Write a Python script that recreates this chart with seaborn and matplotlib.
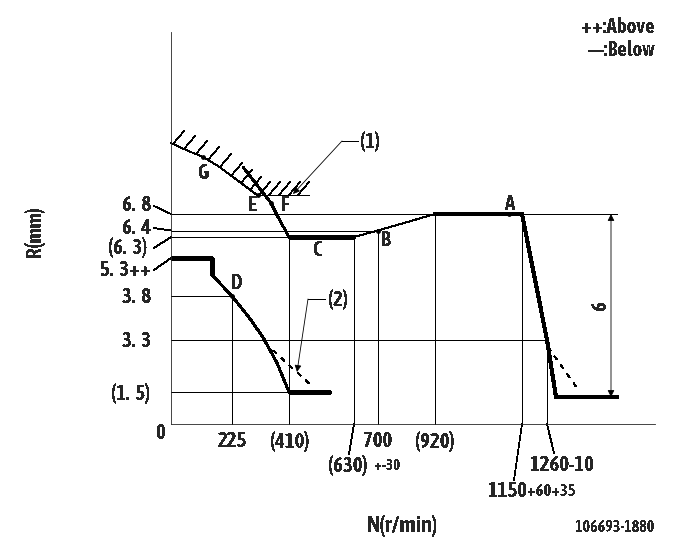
import seaborn as sns
import matplotlib.pyplot as plt

# schematic scale of the drawing (the axis is not linear in r/min)
n_ticks = ["225", "(410)", "700", "(920)"]
n_tick_x = [61, 119, 207, 264]
r_ticks = ["6.  8", "6.  4", "(6.  3)", "5.  3++", "3.  8", "3.  3", "(1.  5)"]
r_tick_y = [219, 196, 176, 154, 127, 83, 31]
r_tick_right = [-20, -20, -24, -20, -20, -20, -21]

# main curves
idle_top_x = [0, 41, 41]
idle_top_y = [166, 166, 149]
idle_x = [41, 61, 80, 93, 106, 118]
idle_y = [149, 128, 104, 85, 61, 32]
idle_end_x = [118, 159]
idle_end_y = [32, 32]
smoke_x = [72, 100, 107, 118]
smoke_y = [257, 221, 207, 187]
flat_c_x = [118, 183]
flat_c_y = [187, 187]
ramp_x = [183, 207, 264]
ramp_y = [187, 193.5, 210]
full_x = [264, 351, 376, 385, 446]
full_y = [210, 210, 84, 27, 27]

# limit curve with hatching
limit_x = [0, 15, 32, 47, 62, 74, 86]
limit_y = [281, 274, 267, 258, 247, 238, 229]
limit_end_x = [86, 138]
limit_end_y = [229, 229]
hatch_x = [2, 13, 25, 37, 49, 60, 70, 79, 88, 98, 108, 118, 127]
hatch_y = [280, 275, 270, 264, 257, 248, 241, 234, 229, 229, 229, 229, 229]

# dashed tails
dash_left_x = [94, 142]
dash_left_y = [81, 37]
dash_right_x = [377, 406]
dash_right_y = [77, 36]

# thin reference lines: x0, x1, y
h_lines = [(0, 446, 210), (0, 207, 193.5), (0, 183, 187), (0, 61, 128), (0, 376, 84.5), (0, 118, 32)]
v_lines = [(61, 128), (118, 187), (183, 187), (207, 193.5), (264, 210), (351, 210), (376, 84.5)]

# points and their letters
pt_names = ["G", "E", "F", "D", "C", "B", "A"]
pt_x = [32, 87, 100, 61, 147, 207, 338]
pt_y = [267, 229, 221, 128, 187, 193.5, 210]
pt_label_x = [33, 81, 114, 66, 147, 215, 339]
pt_label_y = [251, 219, 219, 141, 174, 184, 220]

plt.rcParams["lines.antialiased"] = False
plt.rcParams["text.antialiased"] = False
sns.set_style("white")
plt.rcParams["font.family"] = ["Asap Condensed", "Liberation Sans", "DejaVu Sans"]
plt.rcParams["font.weight"] = "bold"

fig = plt.figure(figsize=(6.81, 5.49), dpi=100)
ax = fig.add_axes([0, 0, 1, 1])
ax.set_xlim(-171, 510)
ax.set_ylim(-125, 424)
ax.patch.set_alpha(0)

for s in ["top", "right"]:
    ax.spines[s].set_visible(False)
ax.spines["left"].set_position(("data", 0))
ax.spines["bottom"].set_position(("data", 0))
ax.spines["left"].set_bounds(0, 392)
ax.spines["bottom"].set_bounds(0, 484)
ax.spines["left"].set_linewidth(0.6)
ax.spines["bottom"].set_linewidth(0.6)
ax.set_xticks([])
ax.set_yticks([])
ax.set_xlabel("")
ax.set_ylabel("")


def line(xs, ys, lw=0.6, ls="-"):
    sns.lineplot(x=xs, y=ys, sort=False, estimator=None, color="black",
                 linewidth=lw, linestyle=ls, ax=ax, legend=False)


# Reference lines
for x0, x1, y in h_lines:
    line([x0, x1], [y, y])
for x, y in v_lines:
    line([x, x], [0, y])

# Thick curves
line(idle_top_x, idle_top_y, 2.2)
line(idle_x, idle_y, 1.4)
line(idle_end_x, idle_end_y, 2.2)
line(smoke_x, smoke_y, 1.3)
line(flat_c_x, flat_c_y, 2.2)
line(ramp_x, ramp_y, 0.7)
line(full_x, full_y, 2.2)

# Limit curve and hatching
line(limit_x, limit_y, 0.6)
line(limit_end_x, limit_end_y)
for x, y in zip(hatch_x, hatch_y):
    line([x, x + 11], [y, y + 13], 0.45)

# Dashed tails
line(dash_left_x, dash_left_y, 0.5, (0, (6, 10)))
line(dash_right_x, dash_right_y, 0.5, (0, (6, 10)))

# Points
sns.scatterplot(x=pt_x, y=pt_y, color="black", s=12, linewidth=0, ax=ax, legend=False)
for name, x, y in zip(pt_names, pt_label_x, pt_label_y):
    ax.text(x, y, name, fontsize=15, ha="center", va="center")

# Tick labels
for lab, x in zip(n_ticks, n_tick_x):
    ax.text(x, -17, lab, fontsize=15, ha="center", va="center")
ax.text(-10, -9, "0", fontsize=15, ha="center", va="center")
for lab, y, x in zip(r_ticks, r_tick_y, r_tick_right):
    ax.text(x, y, lab, fontsize=15, ha="right", va="center")

# Leaders for the R labels
line([-17, 0], [218, 210])
line([-17, 0], [196, 193.5])
line([-17, 0], [176, 187])
line([-17, 0], [154, 166])

# Leaders and labels below the axis
line([183, 178], [0, -30])
ax.text(177, -42, "(630)", fontsize=15, ha="center", va="center")
ax.text(217, -42, "+-30", fontsize=11, ha="center", va="center")
line([351, 343], [0, -56])
ax.text(337, -67, "1150", fontsize=15, ha="center", va="center")
ax.text(381, -67, "+60+35", fontsize=12, ha="center", va="center")
line([376, 383], [0, -29])
ax.text(391, -41, "1260-10", fontsize=15, ha="center", va="center")

# Callouts
line([187, 171], [283, 283])
ax.annotate("", xy=(122, 230), xytext=(171, 283),
            arrowprops=dict(arrowstyle="-|>", lw=0.6, color="black", shrinkA=0, shrinkB=0))
ax.text(199, 282, "(1)", fontsize=15, ha="center", va="center")
line([154, 137], [125, 125])
ax.annotate("", xy=(126, 52), xytext=(137, 125),
            arrowprops=dict(arrowstyle="-|>", lw=0.6, color="black", shrinkA=0, shrinkB=0))
ax.text(167, 124, "(2)", fontsize=15, ha="center", va="center")

# Dimension 6
ax.annotate("", xy=(440, 210), xytext=(440, 27),
            arrowprops=dict(arrowstyle="<|-|>", lw=0.6, color="black", shrinkA=0, shrinkB=0))
ax.text(429, 119, "6", fontsize=15, rotation=90, ha="center", va="center")

# Axis titles and notes
ax.text(232, -102, "N(r/min)", fontsize=16.5, ha="center", va="center")
ax.text(-137, 192, "R(mm)", fontsize=15, rotation=90, ha="center", va="center")
ax.text(444, -103, "106693-1880", fontsize=11.5, ha="center", va="center")
ax.text(484, 397, "++:Above", fontsize=15, ha="right", va="center")
ax.text(484, 374, "—:Below", fontsize=15, ha="right", va="center")

fig.savefig("out.png", dpi=100)
